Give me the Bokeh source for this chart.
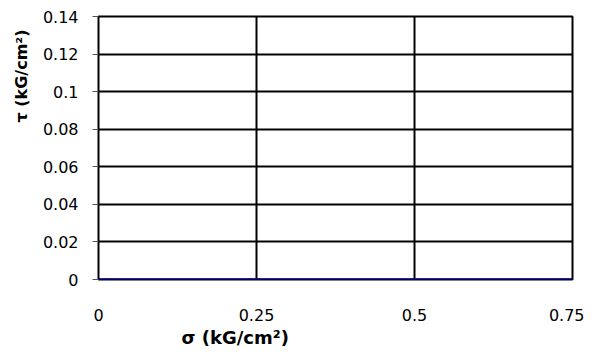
from bokeh.plotting import figure
from bokeh.models import Range1d, FixedTicker, Title
from bokeh.embed import file_html
from bokeh.resources import INLINE

# data
sigma = [0.0, 0.75]
tau = [0.0, 0.0]
x_ticks = [0, 0.25, 0.5, 0.75]
y_ticks = [0, 0.02, 0.04, 0.06, 0.08, 0.1, 0.12, 0.14]
x_title = "σ (kG/cm²)"
y_title = "τ (kG/cm²)"

FONT = "DejaVu Sans"

p = figure(width=584, height=350, output_backend="svg", toolbar_location=None,
           x_range=Range1d(0, 0.75), y_range=Range1d(0, 0.14),
           min_border_left=96, min_border_right=12, min_border_top=16, min_border_bottom=71)
p.background_fill_color = "white"
p.border_fill_color = "white"
p.outline_line_color = "black"
p.outline_line_width = 2

p.xaxis.ticker = FixedTicker(ticks=x_ticks)
p.yaxis.ticker = FixedTicker(ticks=y_ticks)
p.xaxis.major_label_overrides = {0: "0", 0.25: "0.25", 0.5: "0.5", 0.75: "0.75"}
p.yaxis.major_label_overrides = {0: "0", 0.1: "0.1"}

for ax in (p.xaxis[0], p.yaxis[0]):
    ax.axis_line_color = None
    ax.minor_tick_line_color = None
    ax.major_label_text_font = FONT
    ax.major_label_text_font_size = "16px"
    ax.major_label_text_color = "black"

p.xaxis.major_tick_line_color = None
p.xaxis.major_label_standoff = 23
p.yaxis.major_tick_line_color = "#555555"
p.yaxis.major_tick_out = 6
p.yaxis.major_tick_in = 0
p.yaxis.major_label_standoff = 14

p.xgrid.grid_line_color = "black"
p.xgrid.grid_line_width = 2
p.ygrid.grid_line_color = "black"
p.ygrid.grid_line_width = 2

p.line(sigma, tau, line_color="#0000a0", line_width=2.5)

p.add_layout(Title(text=x_title, text_font=FONT, text_font_style="bold", text_color="black",
                   text_font_size="18px", align="left", offset=83, standoff=3), "below")
p.add_layout(Title(text=y_title, text_font=FONT, text_font_style="bold", text_color="black",
                   text_font_size="16px", align="left", offset=157, standoff=18), "left")

open("out.html", "w").write(file_html(p, INLINE))
